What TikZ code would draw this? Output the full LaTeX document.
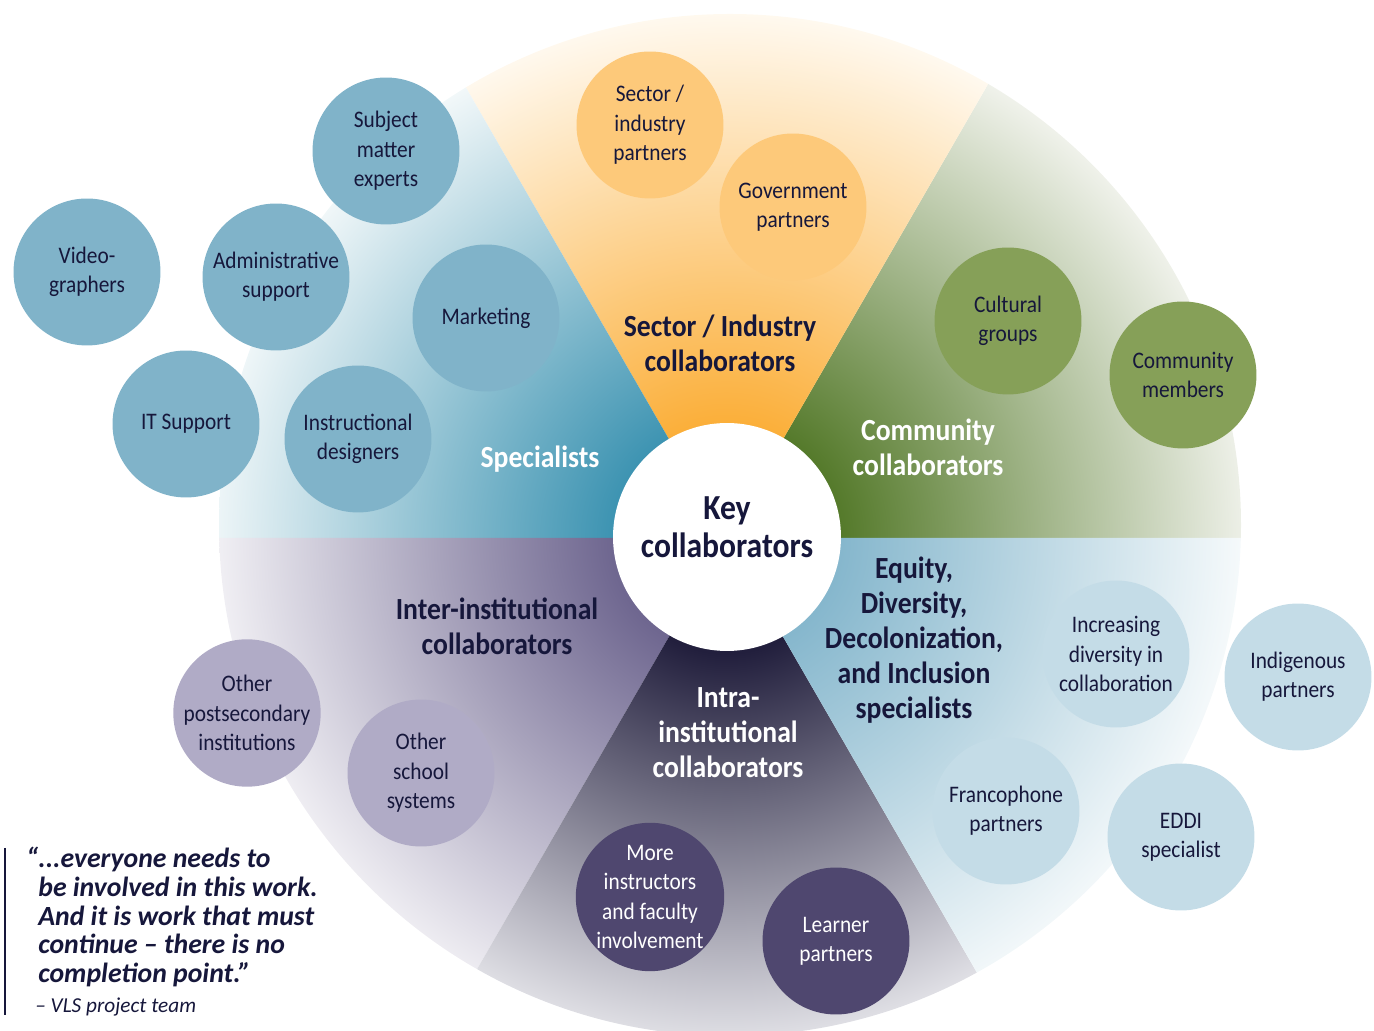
\documentclass[tikz,border=0pt]{standalone}
\usepackage{fontspec}
\setmainfont{Carlito}[FakeStretch=0.9]
\newfontfamily\quotefont{Carlito}

\definecolor{navy}{HTML}{16173B}
\definecolor{specdark}{HTML}{3E94B2}
\definecolor{speclight}{HTML}{F4F9FA}
\definecolor{inddark}{HTML}{FBAF3A}
\definecolor{indlight}{HTML}{FFF9EF}
\definecolor{comdark}{HTML}{557A2B}
\definecolor{comlight}{HTML}{F0F2EB}
\definecolor{eddidark}{HTML}{86B7CD}
\definecolor{eddilight}{HTML}{F8FBFC}
\definecolor{intradark}{HTML}{221F3D}
\definecolor{intralight}{HTML}{EBEBEF}
\definecolor{interdark}{HTML}{6F6790}
\definecolor{interlight}{HTML}{F6F5F8}

\definecolor{specball}{HTML}{80B3C9}
\definecolor{indball}{HTML}{FDC97A}
\definecolor{comball}{HTML}{86A058}
\definecolor{eddiball}{HTML}{C4DCE7}
\definecolor{intraball}{HTML}{4F476F}
\definecolor{interball}{HTML}{B0ABC6}

\newcommand\declfade[1]{\pgfdeclareradialshading{#1fade}{\pgfpoint{0bp}{0bp}}{color(0bp)=(#1dark); color(5.5bp)=(#1dark); color(25bp)=(#1light); color(50bp)=(#1light)}}
\declfade{spec}
\declfade{ind}
\declfade{com}
\declfade{eddi}
\declfade{intra}
\declfade{inter}

\tikzset{
  bubble/.style={circle, minimum size=2.94cm, inner sep=0pt, align=center,
    font=\fontsize{13.5}{16.7}\selectfont, text=navy},
  specbub/.style={bubble, fill=specball},
  indbub/.style={bubble, fill=indball},
  combub/.style={bubble, fill=comball},
  eddibub/.style={bubble, fill=eddiball},
  intrabub/.style={bubble, fill=intraball, text=white},
  interbub/.style={bubble, fill=interball},
  group/.style={align=center, inner sep=0pt, text=navy,
    font=\bfseries\fontsize{17.5}{20}\selectfont},
}

\begin{document}
\begin{tikzpicture}[x=0.02cm, y=0.02cm]
\useasboundingbox (0,0) rectangle (1374,1031);

\foreach \wname/\a in {com/0, ind/60, spec/120, inter/180, intra/240, eddi/300} {
  \begin{scope}
    \clip (730,506) circle [radius=511];
    \clip (726,493) -- +(\a:800) -- +(\a+60:800) -- cycle;
    \shade [shading=\wname fade] (726,493) circle [radius=525];
  \end{scope}
}

\node [circle, fill=white, minimum size=4.56cm, inner sep=0pt] (key) at (727,494) {};
\node [group, font=\bfseries\fontsize{20}{21.5}\selectfont] (keytext) at (727,504) {Key\\collaborators};

\node [group, text=white] (spectitle) at (540,572) {Specialists};
\node [group] (indtitle) at (720,688) {Sector / Industry\\collaborators};
\node [group, text=white] (comtitle) at (928,584) {Community\\collaborators};
\node [group] (eddititle) at (914,391) {Equity,\\Diversity,\\Decolonization,\\and Inclusion\\specialists};
\node [group, text=white] (intratitle) at (728,298) {Intra-\\institutional\\collaborators};
\node [group] (intertitle) at (497,405) {Inter-institutional\\collaborators};

\node [specbub] (experts) at (386,880) {Subject\\matter\\experts};
\node [specbub] (video) at (87,759) {Video-\\graphers};
\node [specbub] (admin) at (276,754) {Administrative\\support};
\node [specbub] (marketing) at (486,713) {Marketing};
\node [specbub] (itsupport) at (186,607) {IT Support};
\node [specbub] (designers) at (358,592) {Instructional\\designers};

\node [indbub] (industry) at (650,906) {Sector /\\industry\\partners};
\node [indbub] (government) at (793,824) {Government\\partners};

\node [combub] (cultural) at (1008,710) {Cultural\\groups};
\node [combub] (community) at (1183,656) {Community\\members};

\node [eddibub] (diversity) at (1116,377) {Increasing\\diversity in\\collaboration};
\node [eddibub] (indigenous) at (1298,354) {Indigenous\\partners};
\node [eddibub] (francophone) at (1006,220) {Francophone\\partners};
\node [eddibub] (eddispec) at (1181,194) {EDDI\\specialist};

\node [intrabub] (faculty) at (650,134) {More\\instructors\\and faculty\\involvement};
\node [intrabub] (learners) at (836,90) {Learner\\partners};

\node [interbub] (postsec) at (247,318) {Other\\postsecondary\\institutions};
\node [interbub] (schools) at (421,258) {Other\\school\\systems};

\draw [navy, line width=1.2pt] (5,183) -- (5,16);
\node [anchor=north west, align=left, inner sep=0pt, text=navy,
  font=\quotefont\bfseries\itshape\fontsize{15.8}{16.3}\selectfont] (quote) at (38,184)
  {\llap{“}...everyone needs to\\be involved in this work.\\And it is work that must\\continue – there is no\\completion point.”};
\node [anchor=west, inner sep=0pt, text=navy,
  font=\quotefont\itshape\fontsize{12.1}{13}\selectfont] (credit) at (35,24) {– VLS project team};

\end{tikzpicture}
\end{document}
